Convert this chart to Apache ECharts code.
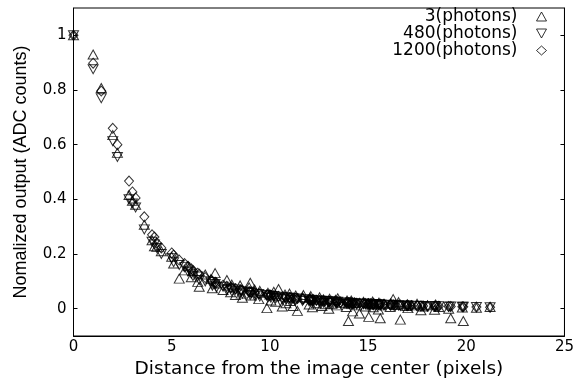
<!DOCTYPE html>
<html>
<head>
<meta charset="utf-8">
<script src="https://cdn.jsdelivr.net/npm/echarts@6/dist/echarts.min.js"></script>
<style>html,body{margin:0;padding:0;background:#fff;}#c{width:577px;height:385px;}</style>
</head>
<body>
<div id="c"></div>
<script>
// distances from the image center (pixels)
var distances = [0,1,1.414,2,2.236,2.828,3,3.162,3.606,4,4.123,4.243,4.472,5,5.099,5.385,5.657,5.831,6,6.083,6.325,6.403,6.708,7,7.071,7.211,7.28,7.616,7.81,8,8.062,8.246,8.485,8.544,8.602,8.944,9,9.055,9.22,9.434,9.487,9.849,9.899,10,10.05,10.198,10.296,10.44,10.63,10.77,10.817,11,11.045,11.18,11.314,11.402,11.662,11.705,12,12.042,12.083,12.166,12.207,12.369,12.53,12.649,12.728,12.806,13,13.038,13.153,13.342,13.416,13.454,13.601,13.892,13.928,14,14.036,14.142,14.213,14.318,14.422,14.56,14.765,14.866,15,15.033,15.133,15.232,15.264,15.297,15.524,15.556,15.62,15.652,15.811,16.125,16.155,16.279,16.401,16.553,16.643,16.971,17,17.029,17.205,17.493,17.692,17.804,18.028,18.385,18.439,18.601,19.105,19.209,19.799,19.849,20.518,21.213];

// 3 photons (triangles)
var out3 = [1.000,0.930,0.807,0.635,0.570,0.416,0.395,0.380,0.307,0.250,0.228,0.226,0.210,0.190,0.165,0.110,0.140,0.155,0.115,0.138,0.098,0.080,0.125,0.108,0.075,0.130,0.092,0.068,0.105,0.060,0.088,0.050,0.085,0.055,0.040,0.078,0.095,0.048,0.070,0.035,0.065,0.002,0.058,0.052,0.030,0.062,0.025,0.072,0.008,0.052,0.020,0.055,0.028,0.010,0.048,-0.008,0.042,0.050,0.015,0.040,0.046,0.005,0.034,0.020,0.042,0.010,0.034,0.016,0.000,0.036,0.018,0.032,0.012,0.038,0.022,0.006,0.030,-0.045,0.018,0.030,-0.010,0.022,0.012,-0.018,0.025,0.008,0.020,-0.030,0.015,0.026,0.005,0.018,-0.003,0.022,-0.035,0.012,0.018,0.006,0.020,0.035,0.014,0.024,-0.040,0.010,0.016,0.002,0.012,0.018,-0.006,0.008,0.012,-0.004,0.015,0.006,0.000,-0.035,0.004,-0.045,0.003,0.006];

// 480 photons (inverted triangles)
var out480 = [1.000,0.876,0.770,0.613,0.555,0.400,0.385,0.370,0.290,0.245,0.235,0.222,0.200,0.185,0.170,0.160,0.152,0.135,0.128,0.120,0.118,0.105,0.100,0.098,0.084,0.090,0.078,0.080,0.068,0.074,0.064,0.070,0.058,0.064,0.055,0.060,0.050,0.057,0.048,0.054,0.045,0.050,0.041,0.047,0.040,0.046,0.037,0.044,0.035,0.042,0.034,0.040,0.032,0.038,0.031,0.037,0.028,0.035,0.026,0.033,0.027,0.032,0.025,0.030,0.023,0.029,0.022,0.028,0.021,0.027,0.020,0.025,0.019,0.025,0.018,0.023,0.017,0.022,0.016,0.021,0.017,0.020,0.015,0.019,0.016,0.018,0.014,0.018,0.015,0.017,0.013,0.016,0.014,0.016,0.012,0.015,0.013,0.014,0.011,0.013,0.012,0.013,0.010,0.012,0.011,0.011,0.009,0.011,0.009,0.010,0.008,0.010,0.008,0.009,0.007,0.008,0.007,0.007,0.006,0.005];

// 1200 photons (diamonds)
var out1200 = [1.000,0.898,0.796,0.660,0.600,0.467,0.427,0.405,0.336,0.270,0.262,0.240,0.222,0.204,0.196,0.178,0.165,0.155,0.146,0.140,0.130,0.126,0.114,0.104,0.101,0.097,0.094,0.086,0.082,0.078,0.077,0.073,0.069,0.068,0.067,0.062,0.061,0.060,0.058,0.055,0.055,0.051,0.050,0.049,0.049,0.047,0.046,0.045,0.043,0.042,0.042,0.040,0.040,0.039,0.038,0.037,0.035,0.035,0.033,0.033,0.033,0.032,0.032,0.031,0.030,0.029,0.029,0.028,0.027,0.027,0.027,0.026,0.025,0.025,0.024,0.023,0.023,0.022,0.022,0.022,0.021,0.021,0.020,0.020,0.019,0.019,0.018,0.018,0.018,0.017,0.017,0.017,0.016,0.016,0.016,0.016,0.015,0.014,0.014,0.014,0.013,0.013,0.013,0.012,0.012,0.012,0.011,0.011,0.010,0.010,0.010,0.009,0.009,0.009,0.008,0.008,0.007,0.007,0.006,0.005];

var seriesNames = ['3(photons)', '480(photons)', '1200(photons)'];
var xTicks = [0, 5, 10, 15, 20, 25];
var yTicks = [0, 0.2, 0.4, 0.6, 0.8, 1];

function zip(xs, ys) { return xs.map(function (x, i) { return [x, ys[i]]; }); }

var downTri = 'path://M0,0 L10,0 L5,9 Z';
var upTri = 'path://M5,0 L10,9 L0,9 Z';
var mk = { color: 'rgba(0,0,0,0)', borderColor: '#000', borderWidth: 1 };

var chart = echarts.init(document.getElementById('c'), null, { renderer: 'canvas' });
chart.setOption({
  animation: false,
  backgroundColor: '#fff',
  grid: { left: 73.5, right: 9.5, top: 8, bottom: 49, show: true, borderColor: '#000', borderWidth: 1, backgroundColor: 'transparent' },
  legend: {
    orient: 'vertical', right: 30, top: 8, align: 'right', itemGap: 0, padding: 0,
    itemWidth: 10, itemHeight: 9,
    itemStyle: { color: 'rgba(0,0,0,0)', borderColor: '#000', borderWidth: 1 },
    formatter: function (n) { return '{a|' + n + '}'; },
    textStyle: { fontFamily: 'DejaVu Sans', fontSize: 17, color: '#000', rich: { a: { fontFamily: 'DejaVu Sans', fontSize: 17, color: '#000', lineHeight: 16.5, padding: [0, 14, 0, 0] } } },
    data: seriesNames
  },
  xAxis: {
    type: 'value', min: xTicks[0], max: xTicks[xTicks.length - 1], interval: 5,
    name: 'Distance from the image center (pixels)', nameLocation: 'middle', nameGap: 22,
    nameTextStyle: { fontFamily: 'DejaVu Sans', fontSize: 18.5, color: '#000' },
    axisLine: { onZero: false, lineStyle: { color: '#000', width: 1 } },
    axisTick: { show: false },
    axisLabel: { customValues: xTicks, fontFamily: 'DejaVu Sans', fontSize: 15, color: '#000', margin: 4 },
    splitLine: { show: false }
  },
  yAxis: [{
    type: 'value', min: -0.1, max: 1.1,
    name: 'Nomalized output (ADC counts)', nameLocation: 'middle', nameGap: 43,
    nameTextStyle: { fontFamily: 'Liberation Sans', fontSize: 18, color: '#000' },
    axisLine: { show: true, onZero: false, lineStyle: { color: '#000', width: 1 } },
    axisTick: { show: true, inside: true, length: 4, customValues: yTicks, lineStyle: { color: '#000' } },
    axisLabel: { customValues: yTicks, fontFamily: 'DejaVu Sans', fontSize: 15, color: '#000', margin: 7 },
    splitLine: { show: false }
  }, {
    type: 'value', min: -0.1, max: 1.1, position: 'right',
    axisLine: { show: true, onZero: false, lineStyle: { color: '#000', width: 1 } },
    axisTick: { show: true, inside: true, length: 4, customValues: yTicks, lineStyle: { color: '#000' } },
    axisLabel: { show: false },
    splitLine: { show: false }
  }],
  series: [
    { name: seriesNames[0], type: 'scatter', symbol: upTri, symbolSize: [10, 9], itemStyle: mk, data: zip(distances, out3), z: 3 },
    { name: seriesNames[1], type: 'scatter', symbol: downTri, symbolSize: [10, 9], itemStyle: mk, data: zip(distances, out480), z: 2 },
    { name: seriesNames[2], type: 'scatter', symbol: 'diamond', symbolSize: [9, 10], itemStyle: mk, data: zip(distances, out1200), z: 1 }
  ]
});
</script>
</body>
</html>
